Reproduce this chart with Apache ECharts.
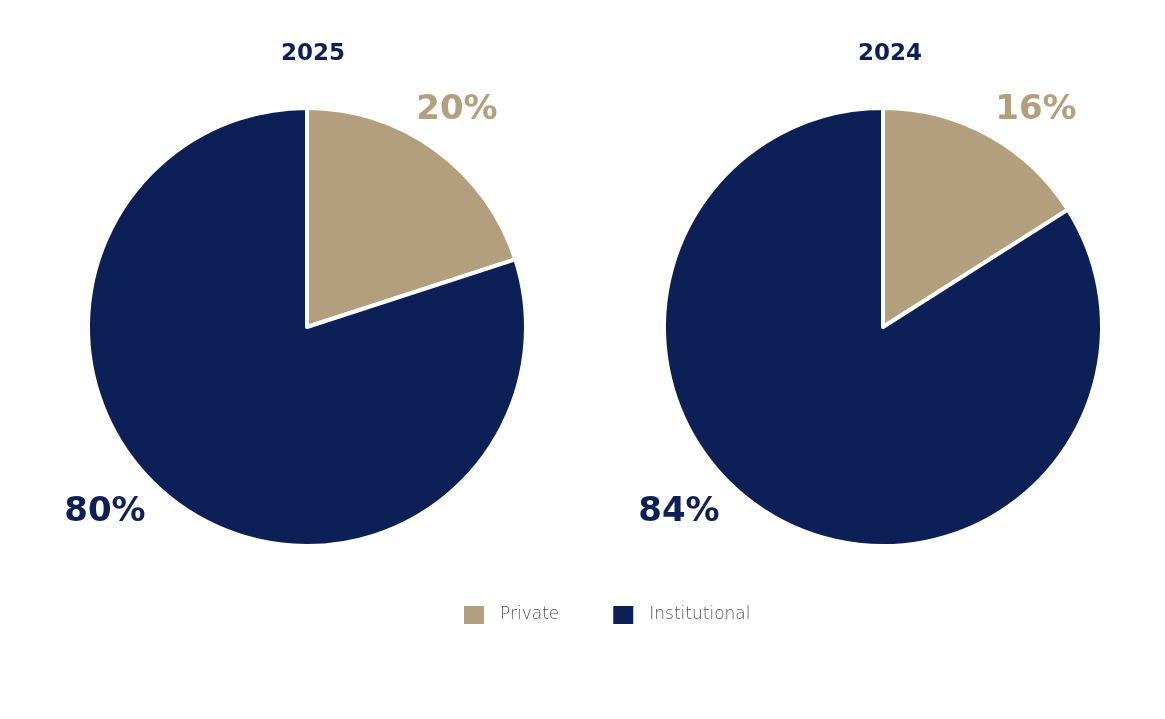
<!DOCTYPE html>
<html><head><meta charset="utf-8">
<script src="https://cdn.jsdelivr.net/npm/echarts@6/dist/echarts.min.js"></script>
<style>html,body{margin:0;padding:0;background:#fff}#c{width:1165px;height:719px}</style>
</head><body><div id="c"></div>
<script>
const categories = ['Private', 'Institutional'];
const years = ['2025', '2024'];
const values2025 = [20, 80];
const values2024 = [16, 84];
const colors = ['#B39E7D', '#0C1F56'];

const chart = echarts.init(document.getElementById('c'));
const labelPos = [
  [[457, 110], [105, 512]],
  [[1036, 110], [679, 512]]
];
function mkSeries(idx, vals, cx) {
  return {
    type: 'pie',
    center: [cx, 327],
    radius: [0, 219],
    startAngle: 90,
    clockwise: true,
    silent: true,
    data: categories.map((c, i) => ({
      name: c, value: vals[i],
      itemStyle: { color: colors[i] },
      label: { color: colors[i] }
    })),
    itemStyle: { borderColor: '#fff', borderWidth: 4 },
    label: {
      show: true, position: 'outside', formatter: '{c}%',
      fontFamily: 'DejaVu Sans', fontWeight: 'bold', fontSize: 34
    },
    labelLine: { show: false },
    labelLayout: function (p) {
      const pos = labelPos[idx][p.dataIndex];
      return { x: pos[0], y: pos[1], align: 'center', verticalAlign: 'middle' };
    }
  };
}
chart.setOption({
  animation: false,
  title: [
    { text: years[0], left: 308, top: 38, textAlign: 'center',
      textStyle: { fontFamily: 'DejaVu Sans', fontWeight: 'bold', fontSize: 23, color: '#0C1F56' } },
    { text: years[1], left: 885, top: 38, textAlign: 'center',
      textStyle: { fontFamily: 'DejaVu Sans', fontWeight: 'bold', fontSize: 23, color: '#0C1F56' } }
  ],
  legend: {
    data: categories,
    left: 457, top: 599,
    itemWidth: 22, itemHeight: 20, itemGap: 52,
    icon: 'rect',
    textStyle: { fontFamily: 'DejaVu Sans', fontWeight: 200, fontSize: 17, color: '#555', padding: [0, 0, 0, 10] },
    selectedMode: false
  },
  series: [mkSeries(0, values2025, 307), mkSeries(1, values2024, 883)]
});
</script></body></html>
